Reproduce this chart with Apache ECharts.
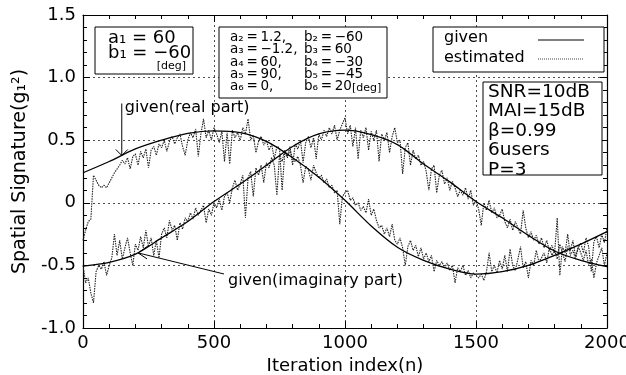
<!DOCTYPE html>
<html>
<head>
<meta charset="utf-8">
<script src="https://cdn.jsdelivr.net/npm/echarts@6/dist/echarts.min.js"></script>
<style>
  html, body { margin: 0; padding: 0; background: #fff; }
  #chart { width: 626px; height: 375px; }
</style>
</head>
<body>
<div id="chart"></div>
<script>
// given curves, read every 100 iterations
const givenIter = [0, 100, 200, 300, 400, 500, 600, 700, 800, 900, 1000, 1100, 1200, 1300, 1400, 1500, 1600, 1700, 1800, 1900, 2000]
const givenReal = [0.24, 0.33, 0.43, 0.50, 0.555, 0.575, 0.56, 0.49, 0.36, 0.205, 0.02, -0.185, -0.355, -0.46, -0.53, -0.57, -0.55, -0.50, -0.42, -0.33, -0.23]
const givenImag = [-0.505, -0.475, -0.41, -0.28, -0.15, 0.01, 0.15, 0.30, 0.45, 0.55, 0.58, 0.545, 0.465, 0.31, 0.167, 0.01, -0.12, -0.26, -0.385, -0.46, -0.51]

// estimated curves, read every 10 iterations
const estStep = 10
const estReal = [
  -0.3, -0.22, -0.15, -0.13, 0.22, 0.18, 0.14, 0.12, 0.14, 0.12,
  0.16, 0.2, 0.24, 0.27, 0.3, 0.34, 0.31, 0.36, 0.27, 0.37,
  0.39, 0.3, 0.41, 0.36, 0.43, 0.28, 0.42, 0.45, 0.38, 0.47,
  0.44, 0.5, 0.41, 0.49, 0.53, 0.47, 0.52, 0.55, 0.45, 0.38,
  0.5, 0.56, 0.52, 0.59, 0.37, 0.55, 0.67, 0.52, 0.58, 0.5,
  0.6, 0.55, 0.48, 0.57, 0.33, 0.56, 0.31, 0.58, 0.52, 0.56,
  0.5, 0.6, 0.55, 0.67, 0.5, 0.54, 0.4, 0.49, 0.53, 0.46,
  0.5, 0.42, 0.47, 0.35, 0.45, 0.44, 0.1, 0.4, 0.36, 0.42,
  0.35, 0.33, 0.37, 0.3, 0.16, 0.29, 0.27, 0.18, 0.3, 0.24,
  0.2, 0.22, 0.16, 0.19, 0.12, 0.14, 0.08, 0.1, -0.17, 0.05,
  0.08, 0.1, 0.02, 0.04, -0.02, 0.0, -0.06, -0.03, -0.08, 0.03,
  -0.1, -0.05, -0.14, -0.2, -0.18, -0.25, -0.2, -0.27, -0.17, -0.3,
  -0.33, -0.28, -0.36, -0.5, -0.35, -0.3, -0.38, -0.34, -0.43, -0.36,
  -0.45, -0.4, -0.47, -0.42, -0.55, -0.46, -0.5, -0.47, -0.52, -0.48,
  -0.54, -0.5, -0.64, -0.52, -0.55, -0.5, -0.58, -0.54, -0.6, -0.56,
  -0.58, -0.6, -0.57, -0.62, -0.55, -0.4, -0.55, -0.5, -0.56, -0.46,
  -0.53, -0.42, -0.55, -0.37, -0.5, -0.54, -0.45, -0.35, -0.52, -0.47,
  -0.6, -0.46, -0.5, -0.38, -0.47, -0.44, -0.4, -0.48, -0.36, -0.42,
  -0.38, -0.45, -0.33, -0.4, -0.47, -0.35, -0.38, -0.3, -0.43, -0.36,
  -0.32, -0.4, -0.28, -0.35, -0.55, -0.31, -0.27, -0.36, -0.25, -0.32,
  -0.2
]
const estImag = [
  -0.5, -0.64, -0.6, -0.72, -0.8, -0.55, -0.5, -0.53, -0.47, -0.58,
  -0.5, -0.44, -0.25, -0.42, -0.3, -0.45, -0.36, -0.28, -0.4, -0.5,
  -0.33, -0.38, -0.27, -0.36, -0.22, -0.35, -0.28, -0.42, -0.3, -0.44,
  -0.25, -0.2, -0.28, -0.14, -0.22, -0.18, -0.3, -0.16, -0.21, -0.12,
  -0.15, -0.08, -0.13, -0.04, -0.1, -0.06, -0.02, -0.16, -0.05, -0.1,
  0.0, -0.04, 0.03, -0.06, 0.05, 0.08, 0.0, 0.12, 0.18, 0.1,
  0.15, 0.22, -0.12, 0.2, 0.25, 0.05, 0.28, 0.22, 0.3, 0.16,
  0.32, 0.28, 0.36, 0.3, 0.06, 0.38, 0.33, 0.42, 0.37, 0.45,
  0.3, 0.47, 0.43, 0.5, 0.32, 0.48, 0.53, 0.44, 0.52, 0.35,
  0.55, 0.5, 0.58, 0.53, 0.6, 0.55, 0.62, 0.5, 0.58, 0.63,
  0.68, 0.55, 0.62, 0.45, 0.6, 0.35, 0.58, 0.52, 0.6, 0.42,
  0.57, 0.5, 0.58, 0.33, 0.55, 0.5, 0.56, 0.4, 0.53, 0.6,
  0.48, 0.5, 0.23, 0.44, 0.48, 0.3, 0.42, 0.35, 0.38, 0.3,
  0.33, 0.25, 0.1, 0.27, 0.3, 0.08, 0.22, 0.26, 0.15, 0.2,
  0.1, 0.17, 0.12, 0.05, 0.1, 0.06, 0.12, 0.03, 0.1, -0.02,
  0.02, -0.05, -0.18, 0.0, -0.06, 0.02, -0.08, -0.04, -0.12, -0.1,
  -0.05, -0.15, -0.2, -0.13, -0.22, -0.15, -0.2, -0.25, -0.06, -0.2,
  -0.28, -0.23, -0.3, -0.26, -0.33, -0.28, -0.36, -0.3, -0.38, -0.34,
  -0.4, -0.12, -0.58, -0.35, -0.4, -0.25, -0.42, -0.38, -0.45, -0.35,
  -0.4, -0.46, -0.38, -0.5, -0.45, -0.6, -0.48, -0.42, -0.36, -0.5,
  -0.4
]

// thin spaces (\u2009) around "=" like the TeX original
const paramA = ['a₂\u2009=\u20091.2,', 'a₃\u2009=\u2009−1.2,', 'a₄\u2009=\u200960,', 'a₅\u2009=\u200990,', 'a₆\u2009=\u20090,']
const paramB = ['b₂\u2009=\u2009−60', 'b₃\u2009=\u200960', 'b₄\u2009=\u2009−30', 'b₅\u2009=\u2009−45', 'b₆\u2009=\u200920']
const conditions = ['SNR=10dB', 'MAI=15dB', 'β=0.99', '6users', 'P=3']

const FONT = '"DejaVu Sans", sans-serif'
const pair = (arr, xs) => arr.map((v, i) => [xs ? xs[i] : i * estStep, v])

const chart = echarts.init(document.getElementById('chart'), null, { renderer: 'canvas' })

const axisCommon = {
  type: 'value',
  axisLine: { onZero: false, lineStyle: { color: '#000', width: 1.2 } },
  axisTick: { inside: true, length: 7, lineStyle: { color: '#000', width: 1 } },
  minorTick: { show: true, splitNumber: 5, length: 4, lineStyle: { color: '#000', width: 1 } },
}

const option = {
  animation: false,
  backgroundColor: '#fff',
  grid: { left: 83, right: 19, top: 15, bottom: 47, outerBoundsMode: 'none' },
  xAxis: [
    {
      ...axisCommon,
      min: 0, max: 2000, interval: 500, position: 'bottom',
      axisLabel: { color: '#000', fontSize: 18, fontFamily: FONT, margin: 6, formatter: v => String(v) },
      splitLine: { show: true, lineStyle: { color: '#222', type: [2, 3], width: 0.8 } },
      name: 'Iteration index(n)', nameLocation: 'middle', nameGap: 28,
      nameTextStyle: { color: '#000', fontSize: 18, fontFamily: FONT },
    },
    {
      ...axisCommon,
      min: 0, max: 2000, interval: 500, position: 'top',
      axisLabel: { show: false }, splitLine: { show: false },
    },
  ],
  yAxis: [
    {
      ...axisCommon,
      min: -1, max: 1.5, interval: 0.5, position: 'left',
      axisLabel: {
        color: '#000', fontSize: 18, fontFamily: FONT, margin: 7,
        formatter: v => (v === 0 ? '0' : v.toFixed(1)),
      },
      splitLine: { show: true, lineStyle: { color: '#222', type: [2, 3], width: 0.8 } },
      name: 'Spatial Signature(g₁²)', nameLocation: 'middle', nameGap: 51,
      nameTextStyle: { color: '#000', fontSize: 19, fontFamily: FONT },
    },
    {
      ...axisCommon,
      min: -1, max: 1.5, interval: 0.5, position: 'right',
      axisLabel: { show: false }, splitLine: { show: false },
    },
  ],
  series: [
    {
      name: 'estimated', type: 'line', data: pair(estReal), symbol: 'none',
      lineStyle: { color: '#222', width: 1.1, type: [1.5, 1] }, z: 2,
    },
    {
      name: 'estimated', type: 'line', data: pair(estImag), symbol: 'none',
      lineStyle: { color: '#222', width: 1.1, type: [1.5, 1] }, z: 2,
    },
    {
      name: 'given', type: 'line', data: pair(givenReal, givenIter), symbol: 'none', smooth: 0.3,
      lineStyle: { color: '#000', width: 1.3 }, z: 3,
    },
    {
      name: 'given', type: 'line', data: pair(givenImag, givenIter), symbol: 'none', smooth: 0.3,
      lineStyle: { color: '#000', width: 1.3 }, z: 3,
    },
  ],
}
chart.setOption(option)

// boxes & annotations
function txt(x, y, s, size, extra) {
  return { type: 'text', x, y, z: 101, style: Object.assign({ text: s, fontSize: size, fontFamily: FONT, fill: '#000', verticalAlign: 'middle' }, extra || {}) }
}
function box(x, y, w, h) {
  return { type: 'rect', z: 100, shape: { x, y, width: w, height: h }, style: { fill: '#fff', stroke: '#000', lineWidth: 1 } }
}
function seg(x1, y1, x2, y2, extra) {
  return { type: 'line', z: 101, shape: { x1, y1, x2, y2 }, style: Object.assign({ stroke: '#000', lineWidth: 1 }, extra || {}) }
}

const g = []
// a1 b1 box
g.push(box(95, 27, 98, 47))
g.push(txt(108, 38, 'a₁ = 60', 18))
g.push(txt(108, 53, 'b₁ = −60', 18))
g.push(txt(186, 66, '[deg]', 11, { align: 'right' }))
// other users
g.push(box(219, 27, 168, 71))
paramA.forEach((s, i) => g.push(txt(230, 37.5 + i * 12.3, s, 13.5)))
paramB.forEach((s, i) => g.push(txt(304, 37.5 + i * 12.3, s, 13.5)))
g.push(txt(352, 88, '[deg]', 11))
// legend
g.push(box(433, 27, 171, 45))
g.push(txt(444, 38, 'given', 16))
g.push(txt(444, 58, 'estimated', 16))
g.push(seg(538, 40, 584, 40, { lineWidth: 1.2 }))
g.push(seg(538, 59, 584, 59, { stroke: '#444', lineDash: [1, 1] }))
// conditions
g.push(box(483, 82, 119, 93))
conditions.forEach((s, i) => g.push(txt(488, 92 + i * 19.5, s, 18.5)))

// arrows pointing at the given curves
const tipR = chart.convertToPixel({ xAxisIndex: 0, yAxisIndex: 0 }, [148, 0.378])
g.push(seg(tipR[0], tipR[1] - 52, tipR[0], tipR[1]))
g.push({ type: 'polyline', z: 101, shape: { points: [[tipR[0] - 6, tipR[1] - 6], tipR, [tipR[0] + 6, tipR[1] - 6]] }, style: { stroke: '#000', fill: null, lineWidth: 1 } })
g.push(txt(tipR[0] + 3, tipR[1] - 48, 'given(real part)', 16))

const tipI = chart.convertToPixel({ xAxisIndex: 0, yAxisIndex: 0 }, [210, -0.40])
g.push(seg(tipI[0], tipI[1], 224, 274))
g.push({ type: 'polyline', z: 101, shape: { points: [[tipI[0] + 10, tipI[1] - 7], tipI, [tipI[0] + 9, tipI[1] + 6]] }, style: { stroke: '#000', fill: null, lineWidth: 1 } })
g.push(txt(228, 281, 'given(imaginary part)', 16))

chart.setOption({ graphic: g })
</script>
</body>
</html>
